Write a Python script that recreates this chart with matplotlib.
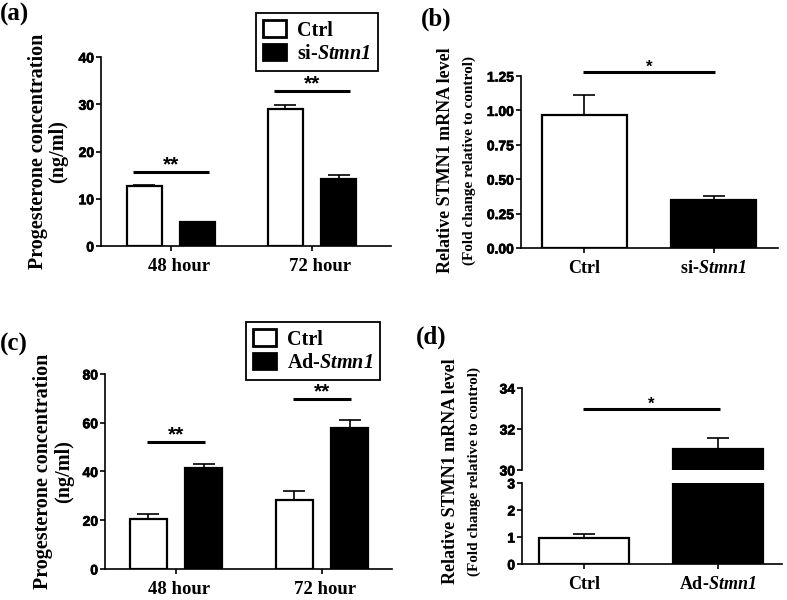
import matplotlib
matplotlib.use("Agg")
import matplotlib.pyplot as plt
import matplotlib.patheffects as pe
from matplotlib.patches import Patch
from matplotlib.transforms import ScaledTranslation

plt.rcParams['font.family'] = 'Liberation Serif'
plt.rcParams['font.weight'] = 'bold'
plt.rcParams['axes.labelweight'] = 'bold'
plt.rcParams['mathtext.fontset'] = 'custom'
plt.rcParams['mathtext.it'] = 'Liberation Serif:italic:bold'
plt.rcParams['mathtext.rm'] = 'Liberation Serif:italic:bold'
plt.rcParams['mathtext.bf'] = 'Liberation Serif:italic:bold'

# data
hours = ['48 hour', '72 hour']
a_ctrl = [12.6, 29.1]
a_ctrl_err = [0.4, 0.8]
a_si = [5.0, 14.2]
a_si_err = [0.1, 0.8]
a_sig = [15.7, 32.8]
a_ticks = [0, 10, 20, 30, 40]

b_groups = ['Ctrl', r'si-$Stmn1$']
b_vals = [0.97, 0.35]
b_err = [0.14, 0.03]
b_sig = 1.28
b_ticks = [0, 0.25, 0.5, 0.75, 1.0, 1.25]
b_ticklabels = ['0.00', '0.25', '0.50', '0.75', '1.00', '1.25']

c_ctrl = [20.3, 28.5]
c_ctrl_err = [2.4, 3.5]
c_ad = [41.5, 58.0]
c_ad_err = [1.4, 3.0]
c_sig = [52.1, 69.7]
c_ticks = [0, 20, 40, 60, 80]

d_groups = ['Ctrl', r'Ad-$Stmn1$']
d_vals = [0.97, 31.0]
d_err = [0.13, 0.55]
d_sig = 32.97
d_low_ticks = [0, 1, 2, 3]
d_up_ticks = [30, 32, 34]

SPW = 1.2
BARW = 1.6
TICKKW = dict(fontfamily='Liberation Sans', fontweight='bold', fontsize=10,
              path_effects=[pe.withStroke(linewidth=0.5, foreground='black')])


def style(ax, ticks, labels=None):
    for s in ['top', 'right']:
        ax.spines[s].set_visible(False)
    for s in ['left', 'bottom']:
        ax.spines[s].set_linewidth(SPW)
    ax.tick_params(width=SPW, length=3.5)
    ax.tick_params(axis='y', pad=1.5)
    ax.tick_params(axis='x', pad=5)
    if labels is None:
        labels = [str(t) for t in ticks]
    ax.set_yticks(ticks, labels, **TICKKW)


def shift_xlabels(ax, fig, dx):
    for lab in ax.get_xticklabels():
        lab.set_transform(lab.get_transform() + ScaledTranslation(dx / 100, 0, fig.dpi_scale_trans))


def bars(ax, x, vals, errs, color, w):
    ax.bar(x, vals, w, color=color, edgecolor='black', linewidth=BARW, zorder=3)
    for xi, v, e in zip(x, vals, errs):
        ax.errorbar([xi], [v], yerr=[[0], [e]], fmt='none', ecolor='black',
                    elinewidth=SPW, capsize=8, capthick=SPW, zorder=2)


def sig(ax, x0, x1, y, txt, size=15):
    ax.plot([x0, x1], [y, y], color='black', lw=2.2, clip_on=False, solid_capstyle='butt')
    ax.annotate(txt, ((x0 + x1) / 2, y), xytext=(0, -2), textcoords='offset points',
                ha='center', va='bottom', fontsize=size, family='Liberation Sans',
                annotation_clip=False)


def legend(ax, fig, label2, anchor):
    h = [Patch(facecolor='white', edgecolor='black', linewidth=2.0),
         Patch(facecolor='black', edgecolor='black', linewidth=2.0)]
    lg = ax.legend(h, ['Ctrl', label2], loc='upper right', bbox_to_anchor=anchor,
                   bbox_transform=fig.transFigure, fancybox=False, framealpha=1,
                   edgecolor='black', fontsize=14.5, handlelength=1.15, handleheight=0.9,
                   labelspacing=0.15, borderpad=0.35, handletextpad=0.55, borderaxespad=0)
    lg.get_frame().set_linewidth(1.3)


fig = plt.figure(figsize=(7.87, 6.0), dpi=100)

# (a)
ax = fig.add_axes([0.1283, 0.59, 0.3685, 0.315])
xs = [0, 1]
off, w = 0.188, 0.248
bars(ax, [x - off for x in xs], a_ctrl, a_ctrl_err, 'white', w)
bars(ax, [x + off for x in xs], a_si, a_si_err, 'black', w)
for x, y in zip(xs, a_sig):
    sig(ax, x - 0.27, x + 0.27, y, '**')
ax.set_xlim(-0.496, 1.56)
ax.set_ylim(0, 40)
ax.set_xticks(xs)
ax.set_xticklabels(hours, fontsize=13.5)
ax.set_ylabel('Progesterone concentration\n(ng/ml)', fontsize=14.5, linespacing=1.05)
ax.yaxis.set_label_coords(-0.112, 0.5)
style(ax, a_ticks)
shift_xlabels(ax, fig, 8)
legend(ax, fig, r'si-$Stmn1$', (0.480, 0.978))
fig.text(0.0, 0.995, '(a)', fontsize=18, va='top')

# (b)
ax = fig.add_axes([0.662, 0.5867, 0.3266, 0.2866])
bars(ax, [0, 1], b_vals, b_err, 'white', 0.66)
ax.patches[1].set_facecolor('black')
sig(ax, -0.01, 1.01, b_sig, '*', size=12)
ax.set_xlim(-0.492, 1.5)
ax.set_ylim(0, 1.25)
ax.set_xticks([0, 1])
ax.set_xticklabels(b_groups, fontsize=13)
style(ax, b_ticks, b_ticklabels)
ax.text(-0.292, 0.51, 'Relative STMN1 mRNA level', rotation=90, transform=ax.transAxes,
        ha='center', va='center', fontsize=13)
ax.text(-0.202, 0.51, '(Fold change relative to control)', rotation=90, transform=ax.transAxes,
        ha='center', va='center', fontsize=11)
fig.text(0.535, 0.988, '(b)', fontsize=18, va='top')

# (c)
ax = fig.add_axes([0.1334, 0.0517, 0.3646, 0.325])
off, w = 0.19, 0.253
bars(ax, [x - off for x in xs], c_ctrl, c_ctrl_err, 'white', w)
bars(ax, [x + off for x in xs], c_ad, c_ad_err, 'black', w)
for x, y in zip(xs, c_sig):
    sig(ax, x - 0.2, x + 0.2, y, '**')
ax.set_xlim(-0.486, 1.479)
ax.set_ylim(0, 80)
ax.set_xticks(xs)
ax.set_xticklabels(hours, fontsize=13.5)
ax.set_ylabel('Progesterone concentration\n(ng/ml)', fontsize=14.5, linespacing=1.05)
ax.yaxis.set_label_coords(-0.108, 0.5)
style(ax, c_ticks)
shift_xlabels(ax, fig, 3)
legend(ax, fig, r'Ad-$Stmn1$', (0.483, 0.463))
fig.text(0.0, 0.445, '(c)', fontsize=18, va='top')

# (d) broken axis
axl = fig.add_axes([0.6633, 0.06, 0.3304, 0.135])
axu = fig.add_axes([0.6633, 0.2167, 0.3304, 0.1366])
for a in (axl, axu):
    bars(a, [0, 1], d_vals, d_err, 'white', 0.674)
    a.patches[1].set_facecolor('black')
    a.set_xlim(-0.464, 1.483)
axl.set_ylim(0, 3)
axl.set_xticks([0, 1])
axl.set_xticklabels(d_groups, fontsize=13)
axu.set_ylim(30, 34)
axu.set_xticks([])
style(axl, d_low_ticks)
style(axu, d_up_ticks)
axu.spines['bottom'].set_visible(False)
sig(axu, -0.01, 1.02, d_sig, '*', size=12)
fig.text(0.572, 0.215, 'Relative STMN1 mRNA level', rotation=90, ha='center', va='center',
         fontsize=13)
fig.text(0.602, 0.215, '(Fold change relative to control)', rotation=90, ha='center',
         va='center', fontsize=11)
fig.text(0.529, 0.458, '(d)', fontsize=18, va='top')

fig.savefig('out.png', dpi=100)
